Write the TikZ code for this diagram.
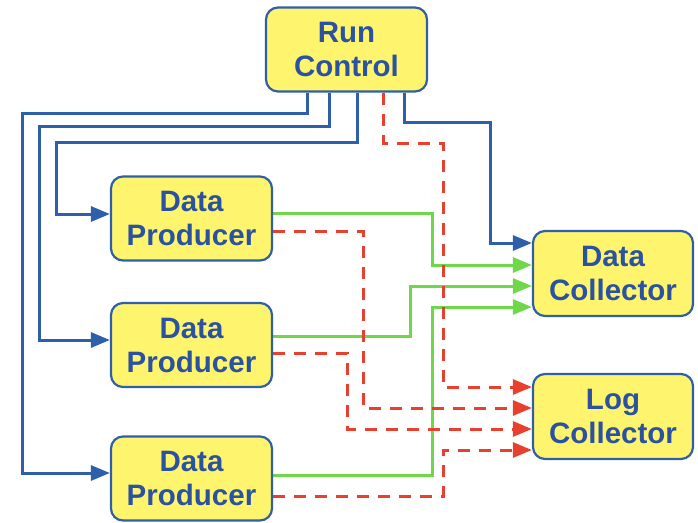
\documentclass[tikz,border=0pt]{standalone}
\usepackage{fontspec}
\setmainfont{Liberation Sans}
\usetikzlibrary{arrows.meta,backgrounds}
\definecolor{boxfill}{HTML}{FFF46E}
\definecolor{boxline}{HTML}{2E5FA8}
\definecolor{boxtext}{HTML}{2A52A0}
\definecolor{ctrlblue}{HTML}{2E5FAA}
\definecolor{datagreen}{HTML}{6ED84A}
\definecolor{logred}{HTML}{E8402F}
\begin{document}
\begin{tikzpicture}[x=1pt,y=-1pt,
  unit/.style={draw=boxline, line width=2.2pt, fill=boxfill, rounded corners=12pt,
    minimum width=161pt, minimum height=84pt, align=center, text=boxtext,
    font=\fontsize{29.5}{34}\selectfont\bfseries, inner sep=0pt},
  flow/.style={line width=3pt, -{Triangle[length=19pt,width=15pt]}},
  ctrl/.style={flow, draw=ctrlblue},
  data/.style={flow, draw=datagreen},
  logs/.style={flow, draw=logred, dash pattern=on 12pt off 9pt},
]
\useasboundingbox (0,0) rectangle (698,522);

% processes
\node[unit] (rc)  at (346.5,49.5)  {Run\\Control};
\node[unit] (dp1) at (191.5,218.5) {Data\\Producer};
\node[unit] (dp2) at (191.5,345)   {Data\\Producer};
\node[unit] (dp3) at (191.5,478.5) {Data\\Producer};
\node[unit, minimum width=160pt, minimum height=85pt] (dc) at (613,273.5) {Data\\Collector};
\node[unit, minimum width=160pt, minimum height=85pt] (lc) at (613,416.5) {Log\\Collector};

\begin{scope}[on background layer]
% run control commands
\draw[ctrl] ([xshift=43pt]rc.south west)  |- (22,113) |- ([yshift=5.5pt]dp3.west);
\draw[ctrl] ([xshift=65pt]rc.south west)  |- (39,126) |- ([yshift=5pt]dp2.west);
\draw[ctrl] ([xshift=93pt]rc.south west)  |- (56,142) |- ([yshift=4.5pt]dp1.west);
\draw[ctrl] ([xshift=140pt]rc.south west) |- (490,122) |- ([yshift=30.5pt]dc.west);

% data flow
\draw[data] ([yshift=5.5pt]dp1.east) -| (432,265) -- ([yshift=8.5pt]dc.west);
\draw[data] ([yshift=9pt]dp2.east)   -| (410,286) -- ([yshift=-12.5pt]dc.west);
\draw[data] ([yshift=3.5pt]dp3.east) -| (432,307) -- ([yshift=-33.5pt]dc.west);

% log messages
\draw[logs] ([xshift=119pt]rc.south west) |- (443,143) |- ([yshift=29.5pt]lc.west);
\draw[logs] ([yshift=-12.5pt]dp1.east) -| (363,408) -- ([yshift=8.5pt]lc.west);
\draw[logs] ([yshift=-8pt]dp2.east)    -| (347,429) -- ([yshift=-12.5pt]lc.west);
\draw[logs] ([yshift=-17.5pt]dp3.east) -| (443,450) -- ([yshift=-33.5pt]lc.west);
\end{scope}
\end{tikzpicture}
\end{document}
